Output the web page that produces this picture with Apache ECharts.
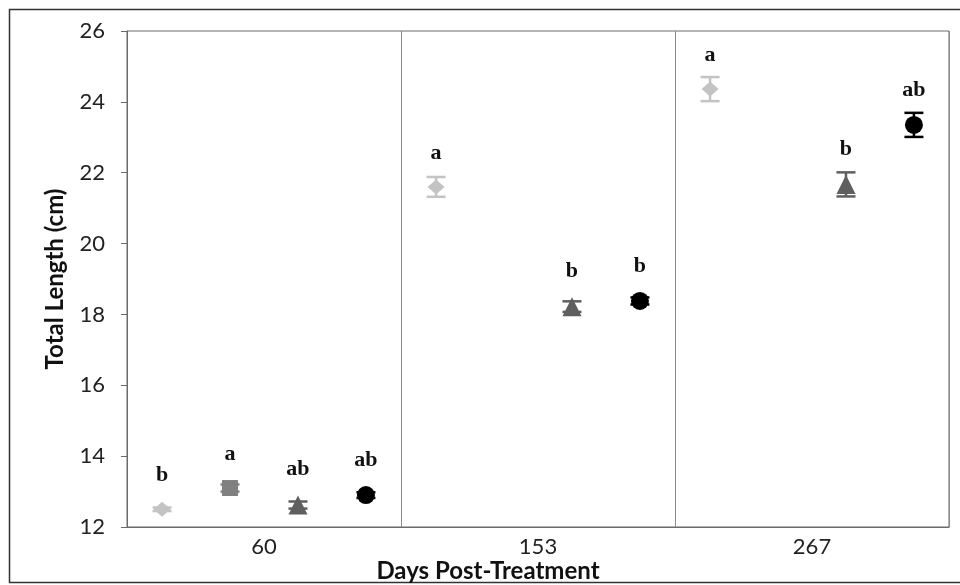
<!DOCTYPE html>
<html>
<head>
<meta charset="utf-8">
<script src="https://cdn.jsdelivr.net/npm/echarts@6/dist/echarts.min.js"></script>
<style>
  html, body { margin: 0; padding: 0; background: #ffffff; }
  #chart { width: 960px; height: 585px; }
</style>
</head>
<body>
<div id="chart"></div>
<script>
// Sampling days (x categories)
const days = ['60', '153', '267'];
const yTicks = [12, 14, 16, 18, 20, 22, 24, 26];

// Mean total length (cm) per treatment group, one entry per sampling day
const meanDiamond  = [12.50, 21.60, 24.36];
const meanSquare   = [13.10, null, null];
const meanTriangle = [12.62, 18.22, 21.67];
const meanCircle   = [12.90, 18.38, 23.35];

// Standard error of each mean
const seDiamond  = [0.05, 0.28, 0.34];
const seSquare   = [0.10, null, null];
const seTriangle = [0.10, 0.15, 0.34];
const seCircle   = [0.08, 0.10, 0.34];

// Significance letters shown above each mean
const letterDiamond  = ['b', 'a', 'a'];
const letterSquare   = ['a', null, null];
const letterTriangle = ['ab', 'b', 'b'];
const letterCircle   = ['ab', 'b', 'ab'];

const groups = [
  { name: 'Group 1', mean: meanDiamond,  se: seDiamond,  letters: letterDiamond,  symbol: 'diamond',  size: [17, 15], color: '#c3c3c3', dodge: -0.372 },
  { name: 'Group 2', mean: meanSquare,   se: seSquare,   letters: letterSquare,   symbol: 'rect',     size: [16, 16], color: '#808080', dodge: -0.124 },
  { name: 'Group 3', mean: meanTriangle, se: seTriangle, letters: letterTriangle, symbol: 'triangle', size: [19, 19], color: '#5f5f5f', dodge:  0.124 },
  { name: 'Group 4', mean: meanCircle,   se: seCircle,   letters: letterCircle,   symbol: 'circle',   size: [18, 18], color: '#000000', dodge:  0.372 }
];

const labelFont = 'Lato, "Open Sans", sans-serif';
const series = [];

groups.forEach(g => {
  const pts = [];
  const bars = [];
  g.mean.forEach((m, i) => {
    if (m == null) return;
    const x = i + 0.5 + g.dodge;
    pts.push({ value: [x, m], letter: g.letters[i] });
    bars.push([x, m - g.se[i], m + g.se[i]]);
  });

  series.push({
    name: g.name,
    type: 'scatter',
    xAxisIndex: 1,
    yAxisIndex: 0,
    symbol: g.symbol,
    symbolSize: g.size,
    itemStyle: { color: g.color, opacity: 1 },
    data: pts,
    z: 3,
    label: {
      show: true,
      position: 'top',
      distance: 15,
      formatter: p => p.data.letter || '',
      fontFamily: '"Liberation Serif", "Times New Roman", serif',
      fontWeight: 'bold',
      fontSize: 22,
      color: '#111111'
    },
    emphasis: { disabled: true }
  });

  series.push({
    name: g.name + ' SE',
    type: 'custom',
    xAxisIndex: 1,
    yAxisIndex: 0,
    data: bars,
    z: 4,
    silent: true,
    renderItem: (params, api) => {
      const x = api.value(0);
      const lo = api.coord([x, api.value(1)]);
      const hi = api.coord([x, api.value(2)]);
      const hw = 9.5;
      const style = { stroke: g.color, lineWidth: 2.5 };
      return {
        type: 'group',
        children: [
          { type: 'line', shape: { x1: hi[0], y1: hi[1], x2: lo[0], y2: lo[1] }, style },
          { type: 'line', shape: { x1: hi[0] - hw, y1: hi[1], x2: hi[0] + hw, y2: hi[1] }, style },
          { type: 'line', shape: { x1: lo[0] - hw, y1: lo[1], x2: lo[0] + hw, y2: lo[1] }, style }
        ]
      };
    }
  });
});

const chart = echarts.init(document.getElementById('chart'), null, { renderer: 'canvas' });

chart.setOption({
  backgroundColor: '#ffffff',
  animation: false,
  grid: {
    left: 127, right: 11, top: 31, bottom: 58,
    outerBoundsMode: 'none',
    show: true, borderColor: '#6a6a6a', borderWidth: 1, backgroundColor: 'transparent'
  },
  xAxis: [
    {
      type: 'category',
      data: days,
      boundaryGap: true,
      axisLine: { show: true, lineStyle: { color: '#6a6a6a', width: 1 } },
      axisTick: { show: false },
      splitLine: { show: true, lineStyle: { color: '#8a8a8a', width: 1 } },
      axisLabel: { fontFamily: labelFont, fontSize: 22, color: '#222222', margin: 9 },
      name: 'Days Post-Treatment',
      nameLocation: 'middle',
      nameGap: 32,
      nameMoveOverlap: false,
      nameTextStyle: {
        fontFamily: labelFont, fontWeight: 'bold', fontSize: 24, color: '#111111',
        padding: [0, 100, 0, 0]
      }
    },
    {
      type: 'value',
      min: 0, max: 3,
      show: false
    }
  ],
  yAxis: {
    type: 'value',
    min: yTicks[0],
    max: yTicks[yTicks.length - 1],
    interval: 2,
    axisLine: { show: true, lineStyle: { color: '#6a6a6a', width: 1 } },
    axisTick: { show: true, inside: false, length: 6, lineStyle: { color: '#6a6a6a' } },
    splitLine: { show: false },
    axisLabel: { fontFamily: labelFont, fontSize: 22, color: '#222222', margin: 22 },
    name: 'Total Length (cm)',
    nameLocation: 'middle',
    nameGap: 60,
    nameMoveOverlap: false,
    nameTextStyle: { fontFamily: labelFont, fontWeight: 'bold', fontSize: 24, color: '#111111' }
  },
  graphic: [
    {
      type: 'rect',
      shape: { x: 9.5, y: 9.5, width: 970, height: 573 },
      style: { fill: 'none', stroke: '#333333', lineWidth: 1.5 },
      silent: true
    }
  ],
  series
});
</script>
</body>
</html>
